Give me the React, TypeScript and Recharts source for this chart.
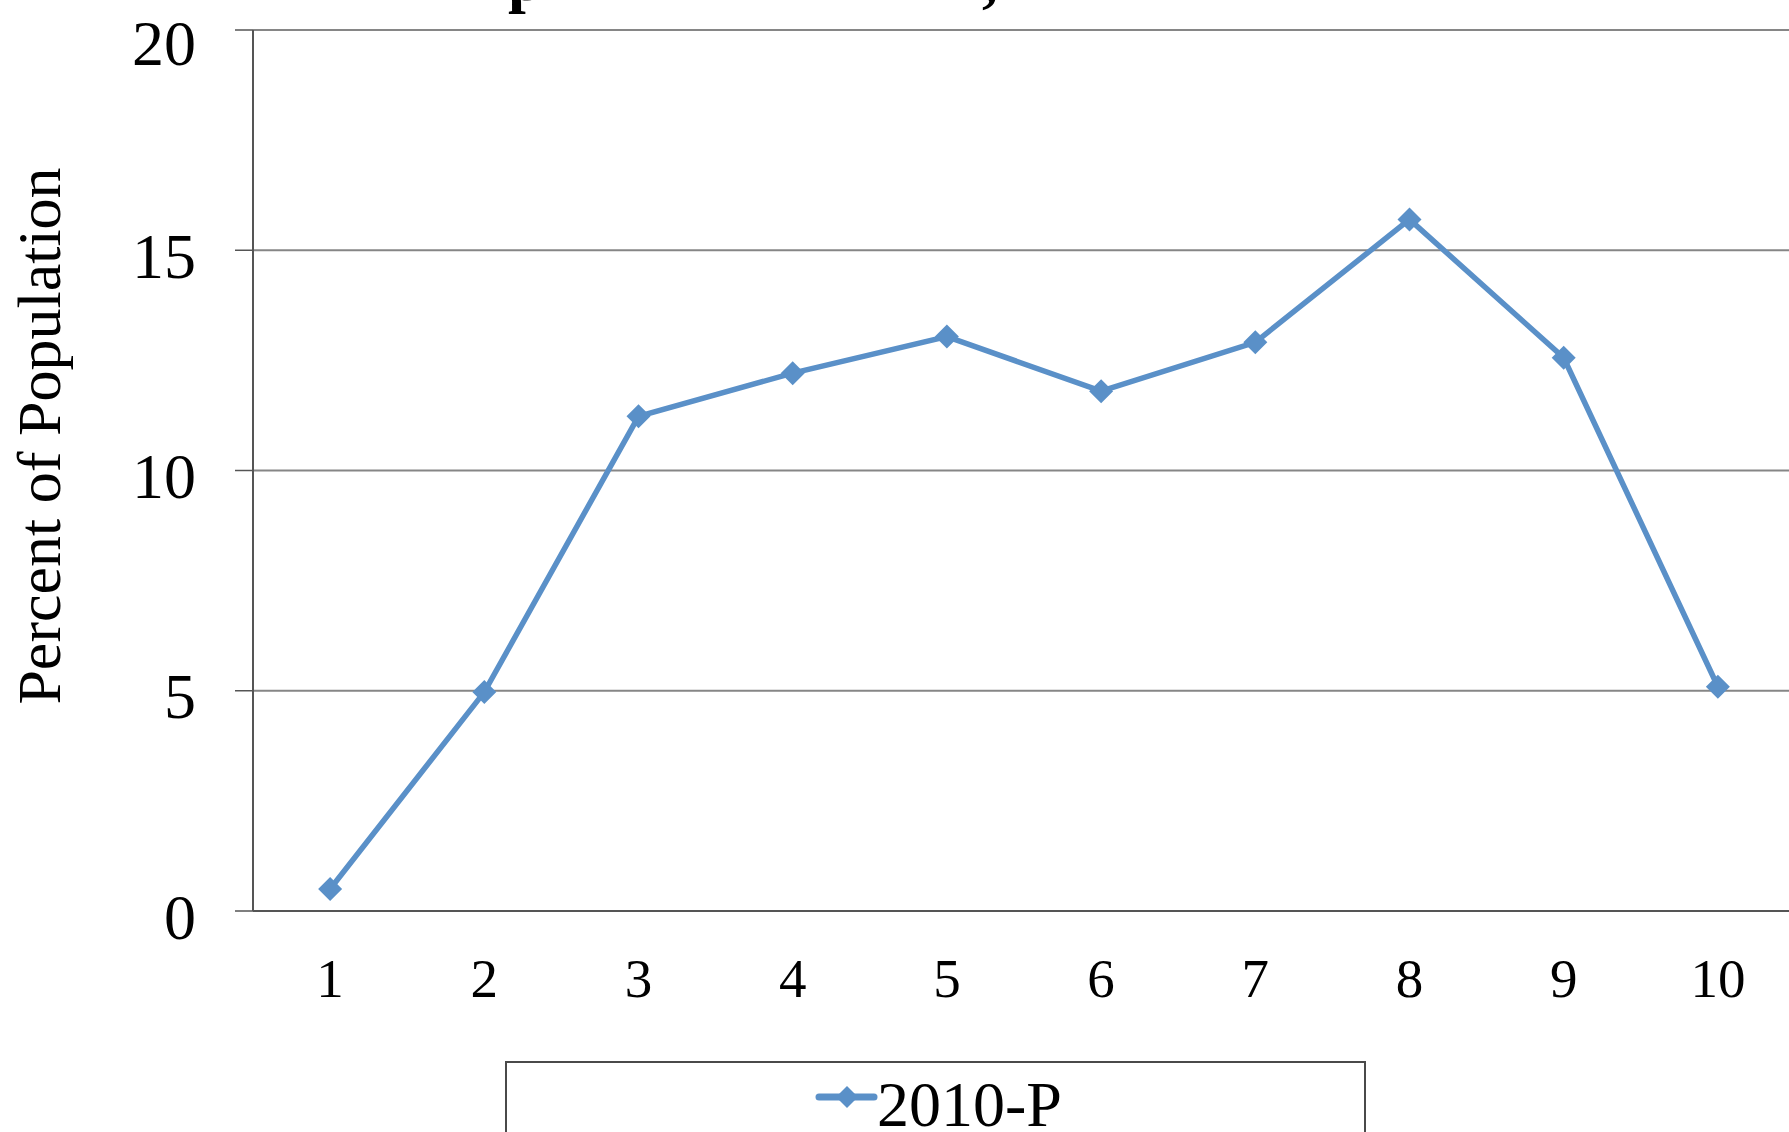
import React from "react";
import { LineChart, Line, XAxis, YAxis, CartesianGrid, Legend, Label } from "recharts";

const CATEGORIES = [1, 2, 3, 4, 5, 6, 7, 8, 9, 10];
const SERIES_2010P = [0.5, 4.97, 11.23, 12.21, 13.04, 11.8, 12.91, 15.7, 12.56, 5.09];
const Y_TICKS = [0, 5, 10, 15, 20];
const BOUNDARY_TICKS = [0.5, 1.5, 2.5, 3.5, 4.5, 5.5, 6.5, 7.5, 8.5, 9.5, 10.5];

const BLUE = "#5A90C8";
const FONT = "'Liberation Serif', 'Times New Roman', serif";

const data = CATEGORIES.map((c, i) => ({ x: c, v: SERIES_2010P[i] }));

function Diamond(props: any) {
  const { cx, cy } = props;
  if (cx == null || cy == null) return null;
  const r = 12;
  return (
    <polygon
      points={`${cx},${cy - r} ${cx + r},${cy} ${cx},${cy + r} ${cx - r},${cy}`}
      fill={BLUE}
      stroke="none"
    />
  );
}

function LegendBox() {
  return (
    <div
      style={{
        position: "absolute",
        left: 0,
        top: 0,
        width: 861,
        height: 120,
        boxSizing: "border-box",
        border: "2px solid #4a4a4a",
        background: "#fff",
      }}
    >
      <svg width={861} height={120} style={{ position: "absolute", left: -2, top: -2 }}>
        <line x1={314} y1={36} x2={369} y2={36} stroke={BLUE} strokeWidth={7} strokeLinecap="round" />
        <polygon points="342,25 353,36 342,47 331,36" fill={BLUE} />
        <text x={372} y={65} fontFamily={FONT} fontSize={64} fill="#000">
          2010-P
        </text>
      </svg>
    </div>
  );
}

export default function App() {
  return (
    <div
      style={{
        position: "absolute",
        left: 0,
        top: 0,
        width: 1789,
        height: 1132,
        overflow: "hidden",
        background: "#fff",
      }}
    >
      {/* title is cut off at the top edge, only descenders show */}
      <svg width={1789} height={40} style={{ position: "absolute", left: 0, top: 0, zIndex: 2 }}>
        <text x={508} y={0} fontFamily={FONT} fontWeight="bold" fontSize={64} fill="#000">p</text>
        <text x={982} y={0} fontFamily={FONT} fontWeight="bold" fontSize={64} fill="#000">,</text>
      </svg>
      <LineChart
        width={1800}
        height={1200}
        data={data}
        margin={{ top: 30, right: 5, left: 0, bottom: 188 }}
      >
        <CartesianGrid vertical={false} stroke="#868686" strokeWidth={2} />
        <XAxis
          xAxisId="b"
          type="number"
          dataKey="x"
          domain={[0.5, 10.5]}
          ticks={BOUNDARY_TICKS}
          tick={false}
          height={1}
          tickSize={16}
          axisLine={{ stroke: "#555", strokeWidth: 2 }}
          tickLine={{ stroke: "#555", strokeWidth: 1.5 }}
        />
        <XAxis
          xAxisId="lab"
          type="number"
          dataKey="x"
          domain={[0.5, 10.5]}
          ticks={CATEGORIES}
          height={100}
          axisLine={false}
          tickLine={false}
          tickSize={0}
          tickMargin={46}
          tick={{ fontFamily: FONT, fontSize: 55, fill: "#000" }}
        />
        <YAxis
          type="number"
          domain={[0, 20]}
          ticks={Y_TICKS}
          width={253}
          tickSize={18}
          tickMargin={39}
          axisLine={{ stroke: "#555", strokeWidth: 2 }}
          tickLine={{ stroke: "#555", strokeWidth: 1.5 }}
          tick={{ fontFamily: FONT, fontSize: 64, fill: "#000", dy: 5 }}
        >
          <Label
            content={() => (
              <text
                transform="translate(60, 436) rotate(-90)"
                textAnchor="middle"
                fontFamily={FONT}
                fontSize={62}
                fill="#000"
              >
                Percent of Population
              </text>
            )}
          />
        </YAxis>
        <Legend
          wrapperStyle={{ position: "absolute", left: 505, top: 1061, width: 861, height: 0 }}
          content={() => <LegendBox />}
        />
        <Line
          xAxisId="lab"
          type="linear"
          dataKey="v"
          name="2010-P"
          stroke={BLUE}
          strokeWidth={5.5}
          dot={<Diamond />}
          activeDot={false}
          isAnimationActive={false}
        />
      </LineChart>
    </div>
  );
}
